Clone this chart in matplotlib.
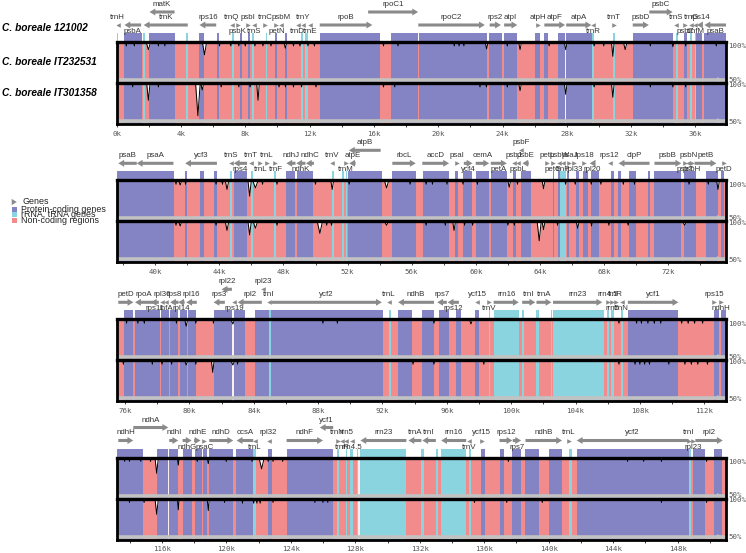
import matplotlib
matplotlib.use('Agg')
import matplotlib.pyplot as plt
from matplotlib.patches import Rectangle, FancyArrowPatch
from matplotlib.ticker import MultipleLocator, FuncFormatter
import matplotlib.transforms as mtransforms

plt.rcParams['font.family'] = ['Liberation Sans', 'DejaVu Sans']

# ---------------- data ----------------
species = ['C. boreale 121002', 'C. boreale IT232531', 'C. boreale IT301358']

panel_start = [0.0, 37.6, 75.48, 113.2]
panel_end = [37.9, 75.6, 113.35, 151.0]

# protein-coding regions (kb)
protein_regions = [
    (0.44, 1.56), (2.04, 3.6), (5.15, 5.42), (6.23, 6.36), (7.64, 7.79), (8.16, 8.31),
    (9.86, 9.99), (10.45, 10.57), (12.63, 16.37), (17.05, 18.76), (18.82, 23.02),
    (23.16, 23.95), (24.11, 24.92), (26.03, 26.34), (26.6, 26.8), (27.48, 27.9),
    (27.97, 29.55), (32.09, 34.58), (35.26, 35.47), (36.05, 36.4), (36.56, 41.18),
    (41.87, 42.0), (42.77, 43.02), (43.68, 43.85), (44.9, 45.73), (48.18, 48.75),
    (48.85, 49.85), (52.02, 54.16), (54.79, 56.25), (56.72, 58.33), (58.7, 58.9),
    (59.22, 59.79), (59.99, 60.83), (60.93, 61.93), (62.29, 62.5), (62.8, 63.43),
    (64.79, 64.89), (65.1, 65.22), (65.66, 65.8), (66.24, 66.45), (66.66, 66.97),
    (67.18, 67.7), (68.43, 68.64), (68.85, 69.06), (69.58, 69.99), (70.72, 70.83),
    (71.14, 72.81), (73.0, 73.7), (74.37, 75.1), (75.3, 75.45),
    (75.94, 76.52), (76.62, 78.18), (78.24, 78.7), (78.8, 79.32), (79.42, 79.84),
    (79.94, 80.4), (81.5, 82.64), (82.74, 83.47), (84.09, 84.92), (85.06, 92.04),
    (92.97, 93.84), (94.46, 95.22), (95.49, 96.11), (96.59, 96.88), (97.77, 98.02),
    (107.25, 110.39), (112.61, 112.92), (113.02, 114.81),
    (115.72, 116.4), (116.46, 117.02), (117.29, 117.85), (118.06, 118.47),
    (118.57, 118.82), (118.94, 120.43), (120.6, 121.67), (122.6, 122.85),
    (123.74, 126.63), (135.77, 136.06), (136.95, 137.2), (137.73, 138.29),
    (138.56, 139.39), (140.01, 140.83), (141.74, 148.68), (148.97, 149.68),
    (150.28, 150.75),
]

# rRNA / tRNA regions (kb)
rna_regions = [
    (0.0, 0.1), (1.64, 1.77), (4.28, 4.42), (7.19, 7.29), (8.41, 8.54), (9.26, 9.35),
    (11.44, 11.59), (11.73, 11.88), (29.55, 29.72), (30.86, 31.0), (34.79, 34.91),
    (35.68, 35.78), (35.95, 36.05),
    (44.68, 44.79), (45.97, 46.1), (47.43, 47.56), (51.04, 51.15), (51.66, 51.77),
    (51.88, 51.96), (65.22, 65.64),
    (84.92, 85.06), (92.4, 92.54), (98.6, 98.71), (98.91, 100.47), (100.68, 100.82),
    (101.57, 101.72), (102.5, 102.56), (102.6, 105.76), (105.93, 106.07),
    (106.22, 106.38), (106.8, 106.94),
    (121.67, 121.84), (126.88, 126.98), (127.41, 127.5), (127.7, 127.83),
    (128.1, 128.17), (128.32, 131.17), (132.1, 132.25), (132.98, 133.13),
    (133.33, 134.88), (135.05, 135.15), (141.29, 141.43), (148.68, 148.83),
]

# unaligned gaps (kb)
gap_regions = [(27.9, 27.97), (82.64, 82.74), (116.4, 116.46), (128.17, 128.27)]

# genes: (panel, name, start, end, direction, row)
genes = [
    (0, 'trnH', 0.0, 0.1, -1, 'a'), (0, 'psbA', 0.48, 1.52, -1, 'b'),
    (0, 'trnK', 1.68, 4.42, -1, 'a'), (0, 'matK', 2.04, 3.6, -1, 't'),
    (0, 'rps16', 5.15, 6.19, -1, 'a'), (0, 'trnQ', 7.1, 7.2, -1, 'a'),
    (0, 'psbK', 7.45, 7.6, 1, 'b'), (0, 'psbI', 8.1, 8.22, 1, 'a'),
    (0, 'trnS', 8.52, 8.62, -1, 'b'), (0, 'trnC', 9.18, 9.28, 1, 'a'),
    (0, 'petN', 9.88, 9.98, 1, 'b'), (0, 'psbM', 10.2, 10.3, -1, 'a'),
    (0, 'trnD', 11.2, 11.3, -1, 'b'), (0, 'trnY', 11.55, 11.65, -1, 'a'),
    (0, 'trnE', 11.95, 12.05, -1, 'b'), (0, 'rpoB', 12.63, 15.9, 1, 'a'),
    (0, 'rpoC1', 15.64, 18.75, 1, 't'), (0, 'rpoC2', 18.76, 22.9, 1, 'a'),
    (0, 'rps2', 23.2, 23.9, 1, 'a'), (0, 'atpI', 24.1, 24.92, 1, 'a'),
    (0, 'atpH', 26.03, 26.34, 1, 'a'), (0, 'atpF', 26.6, 27.89, 1, 'a'),
    (0, 'atpA', 27.96, 29.52, 1, 'a'), (0, 'trnR', 29.56, 29.7, -1, 'b'),
    (0, 'trnT', 30.86, 31.0, 1, 'a'), (0, 'psbD', 32.1, 33.1, 1, 'a'),
    (0, 'psbC', 33.13, 34.58, 1, 't'), (0, 'trnS', 34.75, 34.85, -1, 'a'),
    (0, 'psbZ', 35.26, 35.46, 1, 'b'), (0, 'trnG', 35.68, 35.78, -1, 'a'),
    (0, 'trnfM', 35.95, 36.05, -1, 'b'), (0, 'rps14', 36.1, 36.45, -1, 'a'),
    (0, 'psaB', 36.56, 37.9, -1, 'b'),
    (1, 'psaB', 37.7, 38.85, -1, 'a'), (1, 'psaA', 38.85, 41.14, -1, 'a'),
    (1, 'ycf3', 41.87, 43.85, -1, 'a'), (1, 'trnS', 44.7, 44.8, -1, 'a'),
    (1, 'rps4', 44.9, 45.73, -1, 'b'), (1, 'trnT', 45.9, 46.0, -1, 'a'),
    (1, 'trnL', 46.5, 46.6, 1, 'b'), (1, 'trnL', 46.9, 47.0, 1, 'a'),
    (1, 'trnF', 47.45, 47.55, 1, 'b'), (1, 'ndhJ', 48.18, 48.75, -1, 'a'),
    (1, 'ndhK', 48.8, 49.37, -1, 'b'), (1, 'ndhC', 49.4, 49.9, -1, 'a'),
    (1, 'trnV', 51.0, 51.1, -1, 'a'), (1, 'trnM', 51.85, 51.95, 1, 'b'),
    (1, 'atpE', 52.1, 52.5, -1, 'a'), (1, 'atpB', 52.08, 54.06, -1, 't'),
    (1, 'rbcL', 54.79, 56.25, 1, 'a'), (1, 'accD', 56.66, 58.33, 1, 'a'),
    (1, 'psaI', 58.72, 58.9, 1, 'a'), (1, 'ycf4', 59.25, 59.79, 1, 'b'),
    (1, 'cemA', 59.99, 60.83, 1, 'a'), (1, 'petA', 60.93, 61.93, 1, 'b'),
    (1, 'psbJ', 62.3, 62.45, -1, 'a'), (1, 'psbL', 62.55, 62.7, -1, 'b'),
    (1, 'psbF', 62.75, 62.85, -1, 't'), (1, 'psbE', 62.9, 63.3, -1, 'a'),
    (1, 'petL', 64.4, 64.5, 1, 'a'), (1, 'petG', 64.75, 64.85, 1, 'b'),
    (1, 'psbW', 65.15, 65.25, -1, 'a'), (1, 'trnP', 65.4, 65.5, -1, 'b'),
    (1, 'psaJ', 65.78, 65.88, 1, 'a'), (1, 'rpl33', 66.1, 66.2, 1, 'b'),
    (1, 'rps18', 66.6, 66.9, 1, 'a'), (1, 'rpl20', 67.1, 67.45, -1, 'b'),
    (1, 'rps12', 68.2, 68.5, -1, 'a'), (1, 'clpP', 68.9, 70.83, -1, 'a'),
    (1, 'psbB', 71.14, 72.81, 1, 'a'), (1, 'psbT', 72.95, 73.1, 1, 'b'),
    (1, 'psbN', 73.2, 73.3, -1, 'a'), (1, 'psbH', 73.4, 73.55, 1, 'b'),
    (1, 'petB', 73.64, 75.0, 1, 'a'), (1, 'petD', 75.3, 75.6, 1, 'b'),
    (2, 'petD', 75.58, 76.52, 1, 'a'), (2, 'rpoA', 76.62, 77.76, -1, 'a'),
    (2, 'rps11', 77.6, 78.1, -1, 'b'), (2, 'rpl36', 78.2, 78.4, -1, 'a'),
    (2, 'infA', 78.45, 78.65, -1, 'b'), (2, 'rps8', 78.8, 79.32, -1, 'a'),
    (2, 'rpl14', 79.3, 79.7, -1, 'b'), (2, 'rpl16', 79.8, 80.46, -1, 'a'),
    (2, 'rps3', 81.5, 82.2, -1, 'a'), (2, 'rpl22', 82.0, 82.64, -1, 't'),
    (2, 'rps19', 82.65, 82.95, -1, 'b'), (2, 'rpl2', 83.0, 84.5, -1, 'a'),
    (2, 'rpl23', 84.45, 84.75, -1, 't'), (2, 'trnI', 84.9, 85.0, -1, 'a'),
    (2, 'ycf2', 85.1, 91.96, 1, 'a'), (2, 'trnL', 92.35, 92.45, -1, 'a'),
    (2, 'ndhB', 92.97, 95.2, -1, 'a'), (2, 'rps7', 95.4, 96.0, -1, 'a'),
    (2, 'rps12', 96.05, 96.75, -1, 'b'), (2, 'ycf15', 97.85, 97.95, -1, 'a'),
    (2, 'trnV', 98.6, 98.7, 1, 'b'), (2, 'rrn16', 98.91, 100.47, 1, 'a'),
    (2, 'trnI', 100.68, 101.5, 1, 'a'), (2, 'trnA', 101.57, 102.5, 1, 'a'),
    (2, 'rrn23', 102.6, 105.66, 1, 'a'), (2, 'rrn4.5', 105.93, 106.07, 1, 'a'),
    (2, 'rrn5', 106.2, 106.34, 1, 'b'), (2, 'trnR', 106.45, 106.55, 1, 'a'),
    (2, 'trnN', 106.8, 106.94, -1, 'b'), (2, 'ycf1', 107.25, 110.39, 1, 'a'),
    (2, 'rps15', 112.45, 112.8, 1, 'a'), (2, 'ndhH', 112.9, 113.2, 1, 'b'),
    (3, 'ndhH', 113.3, 114.23, 1, 'a'), (3, 'ndhA', 114.23, 116.4, 1, 't'),
    (3, 'ndhI', 116.46, 117.02, 1, 'a'), (3, 'ndhG', 117.29, 117.85, 1, 'b'),
    (3, 'ndhE', 118.0, 118.4, 1, 'a'), (3, 'psaC', 118.5, 118.75, 1, 'b'),
    (3, 'ndhD', 118.94, 120.43, 1, 'a'), (3, 'ccsA', 120.64, 121.67, -1, 'a'),
    (3, 'trnL', 121.7, 121.8, -1, 'b'), (3, 'rpl32', 122.55, 122.7, -1, 'a'),
    (3, 'ndhF', 123.74, 126.0, 1, 'a'), (3, 'ycf1', 125.8, 126.63, -1, 't'),
    (3, 'trnN', 126.85, 126.95, 1, 'a'), (3, 'trnR', 127.15, 127.25, -1, 'b'),
    (3, 'rrn5', 127.41, 127.5, -1, 'a'), (3, 'rrn4.5', 127.75, 127.88, -1, 'b'),
    (3, 'rrn23', 128.32, 131.17, -1, 'a'), (3, 'trnA', 131.3, 132.1, -1, 'a'),
    (3, 'trnI', 132.16, 133.0, -1, 'a'), (3, 'rrn16', 133.33, 134.88, -1, 'a'),
    (3, 'trnV', 135.0, 135.1, -1, 'b'), (3, 'ycf15', 135.77, 135.9, 1, 'a'),
    (3, 'rps12', 136.95, 137.75, 1, 'a'), (3, 'rps7', 137.77, 138.29, 1, 'b'),
    (3, 'ndhB', 138.56, 140.83, 1, 'a'), (3, 'trnL', 141.2, 141.3, 1, 'a'),
    (3, 'ycf2', 141.74, 148.68, -1, 'a'), (3, 'trnI', 148.65, 148.75, 1, 'a'),
    (3, 'rpl23', 148.9, 149.05, 1, 'b'), (3, 'rpl2', 149.1, 150.8, 1, 'a'),
]

# conservation dips per compared genome: (position kb, identity %, half-width kb)
dips_IT232531 = [
    (0.02, 80, 0.08), (0.6, 96, 0.04), (1.1, 96, 0.04), (1.97, 91, 0.12), (2.6, 96, 0.04),
    (3.0, 96, 0.04), (5.46, 84, 0.12), (6.4, 96, 0.04), (7.1, 96, 0.04), (7.6, 96, 0.04),
    (8.0, 96, 0.04), (8.6, 96, 0.04), (9.1, 96, 0.04), (9.6, 96, 0.04), (10.49, 93, 0.08),
    (11.0, 96, 0.04), (11.4, 96, 0.04), (11.9, 96, 0.04), (12.3, 96, 0.04), (16.6, 96, 0.04),
    (17.5, 96, 0.04), (21.0, 96, 0.04), (21.3, 96, 0.04), (21.6, 96, 0.04), (23.01, 92, 0.08),
    (24.3, 96, 0.04), (25.09, 91, 0.08), (26.9, 96, 0.04), (27.93, 91, 0.08), (29.7, 96, 0.04),
    (30.3, 96, 0.04), (30.86, 82, 0.08), (31.63, 91, 0.1), (33.2, 96, 0.04), (34.6, 95, 0.06),
    (35.4, 96, 0.04), (37.3, 96, 0.04),
    (41.3, 96, 0.04), (41.56, 95, 0.08), (41.9, 96, 0.04), (43.8, 96, 0.04), (44.2, 96, 0.04),
    (44.48, 89, 0.1), (45.89, 80, 0.1), (46.25, 91, 0.15), (46.7, 96, 0.04), (47.6, 96, 0.04),
    (50.0, 96, 0.04), (51.04, 89, 0.08), (52.1, 96, 0.04), (54.43, 91, 0.12), (55.9, 96, 0.04),
    (56.9, 96, 0.04), (57.3, 96, 0.04), (58.2, 96, 0.04), (59.2, 96, 0.04), (60.1, 96, 0.04),
    (62.08, 92, 0.08), (62.6, 96, 0.04), (64.22, 90, 0.08), (65.6, 96, 0.04), (66.2, 96, 0.04),
    (67.2, 96, 0.04), (67.8, 96, 0.04), (69.2, 96, 0.04), (69.9, 96, 0.04), (73.3, 96, 0.04),
    (74.5, 96, 0.04), (75.1, 89, 0.08),
    (76.1, 96, 0.04), (76.8, 96, 0.04), (77.2, 96, 0.04), (79.2, 96, 0.04), (79.8, 92, 0.08),
    (80.4, 96, 0.04), (81.5, 96, 0.04), (82.7, 95, 0.1), (88.3, 96, 0.04), (89.2, 96, 0.04),
    (95.2, 96, 0.04), (97.5, 95, 0.08), (106.7, 96, 0.04), (107.8, 96, 0.04), (108.1, 96, 0.04),
    (108.5, 96, 0.04), (108.9, 96, 0.04), (109.3, 96, 0.04), (110.6, 96, 0.04), (111.0, 96, 0.04),
    (111.4, 96, 0.04), (111.9, 96, 0.04),
    (113.7, 96, 0.04), (114.0, 96, 0.04), (114.7, 96, 0.04), (115.3, 96, 0.04), (115.68, 80, 0.1),
    (117.02, 91, 0.05), (118.2, 96, 0.04), (118.88, 93, 0.06), (120.0, 96, 0.04),
    (121.6, 96, 0.04), (122.19, 86, 0.15), (122.6, 96, 0.04), (122.9, 96, 0.04),
    (123.5, 96, 0.04), (137.5, 96, 0.04), (144.9, 96, 0.04), (145.9, 96, 0.04),
    (147.0, 96, 0.04), (149.8, 96, 0.04),
]
dips_IT301358 = [
    (0.02, 82, 0.08), (1.0, 96, 0.04), (1.97, 78, 0.1), (2.6, 96, 0.04), (5.05, 57, 0.14),
    (5.32, 92, 0.08), (6.5, 96, 0.04), (7.6, 96, 0.04), (8.3, 96, 0.04), (8.79, 78, 0.08),
    (10.1, 96, 0.04), (10.5, 96, 0.04), (11.0, 96, 0.04), (11.5, 96, 0.04), (12.4, 96, 0.04),
    (16.6, 96, 0.04), (17.3, 96, 0.04), (22.6, 96, 0.04), (23.0, 96, 0.04), (24.3, 96, 0.04),
    (25.09, 91, 0.08), (27.93, 86, 0.08), (29.7, 96, 0.04), (30.86, 82, 0.08), (33.2, 96, 0.04),
    (34.6, 96, 0.04), (35.4, 96, 0.04),
    (41.3, 96, 0.04), (41.56, 95, 0.08), (43.8, 96, 0.04), (44.48, 89, 0.1), (45.89, 83, 0.1),
    (46.25, 92, 0.12), (47.6, 96, 0.04), (50.27, 85, 0.15), (50.7, 96, 0.04), (51.0, 96, 0.04),
    (54.43, 96, 0.1), (56.9, 96, 0.04), (58.1, 96, 0.04), (58.64, 89, 0.08), (59.3, 96, 0.04),
    (59.8, 96, 0.04), (62.0, 96, 0.04), (62.4, 96, 0.04), (63.95, 75, 0.12), (64.22, 90, 0.08),
    (65.1, 96, 0.04), (66.35, 92, 0.08), (67.22, 95, 0.05), (68.3, 96, 0.04), (69.5, 96, 0.04),
    (73.02, 96, 0.1),
    (75.9, 96, 0.04), (77.7, 96, 0.04), (78.3, 96, 0.04), (78.9, 96, 0.04), (79.8, 95, 0.08),
    (80.4, 96, 0.04), (81.45, 85, 0.08), (82.7, 95, 0.1), (83.0, 96, 0.04), (93.9, 96, 0.04),
    (95.2, 96, 0.04), (98.3, 96, 0.04), (106.7, 96, 0.04), (107.7, 96, 0.04), (108.0, 96, 0.04),
    (108.3, 96, 0.04), (108.6, 96, 0.04), (109.8, 96, 0.04), (110.8, 96, 0.04), (111.2, 96, 0.04),
    (111.6, 96, 0.04), (112.2, 96, 0.04),
    (114.0, 96, 0.04), (114.9, 96, 0.04), (115.68, 80, 0.1), (117.02, 86, 0.05),
    (118.88, 85, 0.06), (119.9, 96, 0.04), (121.01, 95, 0.05), (121.7, 95, 0.05),
    (121.9, 95, 0.05), (122.1, 95, 0.05), (122.9, 96, 0.04), (125.5, 96, 0.04), (126.0, 96, 0.04),
    (126.3, 96, 0.04), (135.4, 96, 0.04), (137.4, 96, 0.04), (139.6, 96, 0.04),
    (147.0, 96, 0.04), (149.8, 96, 0.04),
]
dips = [dips_IT232531, dips_IT301358]

# ---------------- style / layout ----------------
PURPLE = '#8484C4'
PINK = '#F28C8C'
CYAN = '#8AD4DF'
ARROW = '#8A8A8A'
GREY50 = '#C2C2C2'
TXT = '#333333'

W, H, DPI = 746, 553, 100
fig = plt.figure(figsize=(W / DPI, H / DPI), dpi=DPI)

BOX_LEFT, BOX_RIGHT = 116.7, 726.0
box_top = [42.0, 180.3, 319.3, 457.5]
BOX_H = 82.0
ABOVE = 42.0
STRIP = 9.0
TRACK_H = 41.0

row_arrow_y = {'t': -30.0, 'a': -17.0, 'b': -17.0}
row_label_y = {'t': -37.5, 'a': -24.5, 'b': -10.3}


def in_range(regs, x0, x1):
    return [(s, e - s) for s, e in regs if e > x0 and s < x1]


for p in range(4):
    bt = box_top[p]
    ax = fig.add_axes([BOX_LEFT / W, 1 - (bt + BOX_H) / H,
                       (BOX_RIGHT - BOX_LEFT) / W, (BOX_H + ABOVE) / H])
    x0, x1 = panel_start[p], panel_end[p]
    ax.set_xlim(x0, x1)
    ax.set_ylim(BOX_H, -ABOVE)
    for s in ax.spines.values():
        s.set_visible(False)
    ax.set_yticks([])
    ax.patch.set_alpha(0)

    # regions inside box
    ax.add_patch(Rectangle((x0, 0), x1 - x0, BOX_H, facecolor=PINK, lw=0, zorder=1))
    ax.broken_barh(in_range(protein_regions, x0, x1), (0, BOX_H), facecolors=PURPLE, lw=0, zorder=2)
    ax.broken_barh(in_range(rna_regions, x0, x1), (0, BOX_H), facecolors=CYAN, lw=0, zorder=2)
    ax.broken_barh(in_range(gap_regions, x0, x1), (0, BOX_H), facecolors='white', alpha=0.85, lw=0, zorder=2)
    # strip above box
    ax.broken_barh(in_range(protein_regions, x0, x1), (-STRIP, STRIP), facecolors=PURPLE, lw=0, zorder=2)
    ax.broken_barh(in_range(rna_regions, x0, x1), (-STRIP, STRIP), facecolors=CYAN, lw=0, zorder=2)

    # tracks
    for t in range(2):
        y100 = TRACK_H * t + 1.0
        y50 = TRACK_H * t + 38.0
        ax.plot([x0, x1], [y50, y50], color=GREY50, lw=2.6, solid_capstyle='butt', zorder=3)
        ax.plot([x1 - 0.35], [y50], marker='>', ms=4.5, color=GREY50, mew=0, zorder=3)
        xs, ys = [x0], [y100]
        for c, v, hw in sorted(dips[t]):
            if c + hw < x0 or c - hw > x1:
                continue
            yv = y100 + (100 - v) / 50.0 * (y50 - y100)
            xs += [c - hw, c, c + hw]
            ys += [y100, yv, y100]
        xs.append(x1)
        ys.append(y100)
        ax.fill_between(xs, y100, ys, color='white', lw=0, zorder=4)
        ax.plot(xs, ys, color='black', lw=0.7, zorder=5)

    # frame
    for yy, lw in [(0, 2.4), (TRACK_H, 2.4), (BOX_H, 2.0)]:
        ax.plot([x0, x1], [yy, yy], color='black', lw=lw, solid_capstyle='projecting', zorder=6, clip_on=False)
    for xx in (x0, x1):
        ax.plot([xx, xx], [0, BOX_H], color='black', lw=2.0, zorder=6, clip_on=False)

    # percent labels
    trans = mtransforms.blended_transform_factory(ax.transAxes, ax.transData)
    for yy, s in [(4.5, '100%'), (37.5, '50%'), (43.0, '100%'), (79.5, '50%')]:
        ax.text(1.004, yy, s, transform=trans, fontsize=5.3, family='DejaVu Sans Mono',
                color='#555555', va='center', ha='left')

    # genes
    for gp, name, s, e, d, row in genes:
        if gp != p:
            continue
        cs, ce = max(s, x0), min(e, x1)
        ya = row_arrow_y[row]
        if ce - cs < 0.35:
            ax.plot([(cs + ce) / 2], [ya], marker='>' if d > 0 else '<', ms=3.3,
                    color=ARROW, mew=0, zorder=3)
        else:
            tail, head = (cs, ce) if d > 0 else (ce, cs)
            ax.annotate('', xy=(head, ya), xytext=(tail, ya),
                        arrowprops=dict(arrowstyle='simple,head_length=0.42,head_width=0.5,tail_width=0.22',
                                        mutation_scale=10, fc=ARROW, ec='none',
                                        shrinkA=0, shrinkB=0), zorder=3)
        ax.text((cs + ce) / 2, row_label_y[row], name, fontsize=5.7, color=TXT,
                ha='center', va='center', zorder=7, clip_on=False)

    # x axis
    ax.xaxis.set_major_locator(MultipleLocator(4))
    ax.xaxis.set_minor_locator(MultipleLocator(2))
    ax.xaxis.set_major_formatter(FuncFormatter(lambda v, pos: f'{int(round(v))}k'))
    ax.tick_params(axis='x', which='major', direction='out', length=2.5, width=0.7,
                   color='#444444', labelsize=5.3, labelcolor='#555555', pad=2.2,
                   labelfontfamily='DejaVu Sans Mono')
    ax.tick_params(axis='x', which='minor', direction='out', length=2.0, width=0.7, color='#444444')

# species labels
for name, yc in zip(species, [28.3, 61.7, 93.3]):
    fig.text(2 / W, 1 - yc / H, name, fontsize=7.3, fontweight='bold', fontstyle='italic',
             color='black', ha='left', va='center')

# legend
leg_items = [('Protein-coding genes', PURPLE, 209.0), ('rRNA, tRNA genes', CYAN, 214.5),
             ('Non-coding regions', PINK, 220.5)]
fig.add_artist(FancyArrowPatch((10.5 / W, 1 - 202 / H), (19.5 / W, 1 - 202 / H),
                               transform=fig.transFigure,
                               arrowstyle='simple,head_length=0.4,head_width=0.5,tail_width=0.22',
                               mutation_scale=9, fc=ARROW, ec='none'))
fig.text(22.5 / W, 1 - 202 / H, 'Genes', fontsize=6.4, color='#222222', ha='left', va='center')
for lab, col, yc in leg_items:
    fig.add_artist(Rectangle((12 / W, 1 - (yc + 2.5) / H), 5 / W, 5 / H,
                             transform=fig.transFigure, facecolor=col, lw=0))
    fig.text(20.7 / W, 1 - yc / H, lab, fontsize=6.4, color='#222222', ha='left', va='center')

fig.savefig('out.png', dpi=DPI)
